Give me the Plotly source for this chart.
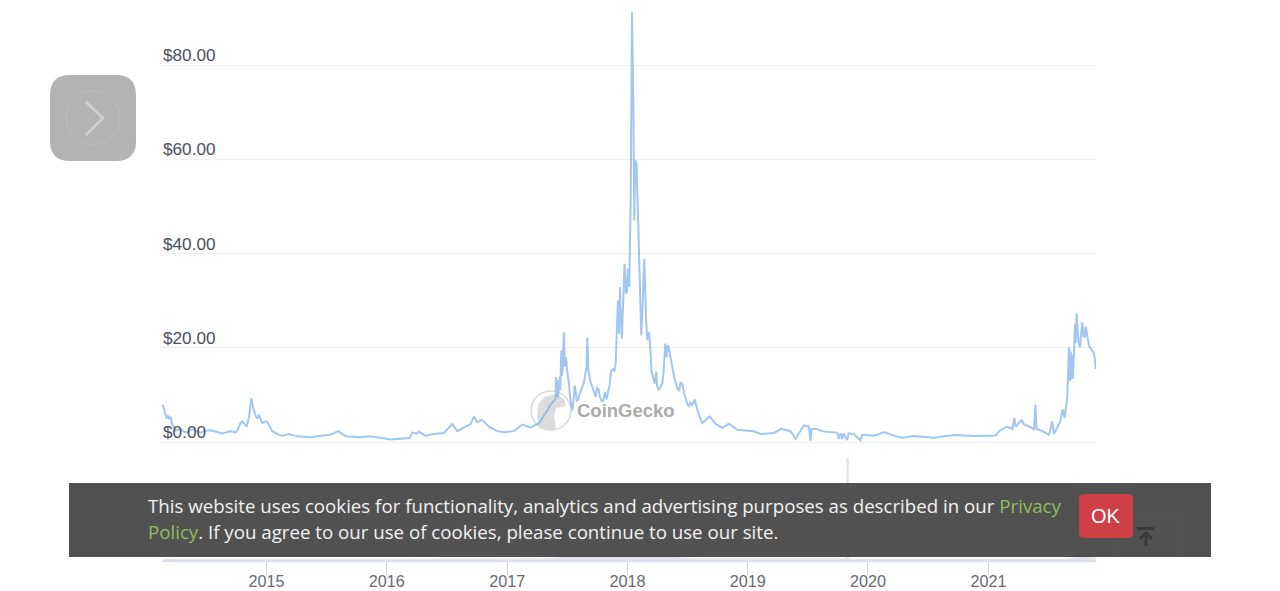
import pandas as pd
import plotly.graph_objects as go

W, H = 1280, 591

price_years = [
 2014.136,2014.147,2014.158,2014.169,2014.18,2014.191,2014.202,2014.216,2014.23,2014.244,2014.285,2014.341,2014.396,2014.452,2014.535,
 2014.632,2014.70,2014.742,2014.778,2014.798,2014.834,2014.853,2014.873,2014.886,2014.909,2014.936,2014.964,2015.006,2015.047,2015.102,
 2015.13,2015.186,2015.255,2015.366,2015.449,2015.532,2015.596,2015.656,2015.781,2015.85,2015.947,2016.03,2016.19,2016.21,2016.25,
 2016.266,2016.32,2016.39,2016.474,2016.543,2016.584,2016.654,2016.695,2016.723,2016.75,2016.79,2016.848,2016.917,2016.972,2017.055,
 2017.125,2017.194,2017.263,2017.333,2017.355,2017.402,2017.405,2017.422,2017.438,2017.449,2017.46,2017.471,2017.488,2017.513,2017.541,
 2017.56,2017.577,2017.624,2017.66,2017.665,2017.674,2017.707,2017.735,2017.757,2017.79,2017.812,2017.837,2017.865,2017.901,2017.92,
 2017.931,2017.937,2017.953,2017.975,2017.987,2018.003,2018.014,2018.026,2018.037,2018.048,2018.056,2018.064,2018.075,2018.084,2018.095,
 2018.103,2018.114,2018.128,2018.139,2018.153,2018.164,2018.18,2018.197,2018.225,2018.239,2018.258,2018.289,2018.314,2018.325,2018.339,
 2018.372,2018.414,2018.455,2018.497,2018.538,2018.558,2018.621,2018.682,2018.732,2018.788,2018.843,2018.912,2018.995,2019.05,2019.106,
 2019.217,2019.278,2019.356,2019.397,2019.425,2019.466,2019.508,2019.522,2019.53,2019.572,2019.633,2019.744,2019.757,2019.771,2019.785,
 2019.798,2019.826,2019.84,2019.88,2019.937,2019.951,2020.05,2020.137,2020.215,2020.285,2020.38,2020.547,2020.713,2020.88,2021.06,
 2021.087,2021.151,2021.198,2021.215,2021.226,2021.276,2021.295,2021.323,2021.378,2021.389,2021.4,2021.448,2021.503,2021.53,2021.544,
 2021.572,2021.594,2021.617,2021.633,2021.655,2021.669,2021.677,2021.688,2021.702,2021.716,2021.733,2021.744,2021.76,2021.78,2021.8,
 2021.816,2021.836,2021.872,2021.892,
]
price_values = [
 7.9,7.0,5.8,5.0,5.6,4.9,5.3,3.6,3.2,2.4,2.8,2.05,2.7,2.0,2.5,
 1.8,2.3,2.0,3.8,4.4,3.25,5.2,9.3,7.4,5.6,5.8,4.0,4.2,2.3,1.5,
 1.35,1.7,1.2,1.0,1.35,1.55,2.3,1.2,1.0,1.2,0.9,0.55,0.85,2.0,1.8,
 2.2,1.35,1.7,1.9,3.8,2.3,3.25,3.8,5.4,4.2,4.7,3.25,2.3,2.05,2.3,
 3.7,3.1,4.0,6.7,7.8,9.2,13.8,9.5,13.8,19.4,15.2,23.3,18.0,12.4,6.7,
 12.0,8.8,11.7,15.9,22.1,15.2,11.7,9.5,11.3,8.5,10.6,10.3,15.2,16.6,30.0,
 23.0,32.9,21.9,37.8,31.5,36.8,32.9,51.3,91.2,72.5,47.0,59.8,59.0,49.9,44.2,
 32.9,22.6,30.8,38.9,26.5,21.6,23.3,15.9,12.4,14.9,11.0,12.4,20.9,18.0,20.5,
 16.3,11.3,12.4,8.1,7.8,9.0,4.0,5.4,3.9,3.0,3.9,2.6,2.3,2.26,1.7,
 1.9,2.8,2.3,0.65,1.7,3.5,3.25,0.3,2.75,2.75,2.2,2.0,0.65,1.85,0.65,
 1.85,0.4,1.85,1.7,0.4,1.55,1.35,2.1,1.35,0.9,1.25,0.9,1.5,1.25,1.4,
 2.3,3.25,2.75,5.1,3.25,4.65,3.7,3.5,2.75,7.9,2.75,2.3,1.55,4.4,1.7,
 3.1,4.2,6.9,5.1,9.5,20.1,13.4,18.3,13.4,21.9,27.3,22.9,20.1,25.4,22.2,
 23.6,20.4,19.0,15.5,
]

# finer readings from the busy stretches of the line
detail_years = [
 2014.31,2014.37,2014.42,2014.49,2014.58,2014.67,2014.76,2014.92,2014.99,2015.02,2015.07,
 2017.41,2017.414,2017.418,2017.43,2017.44,2017.453,2017.465,2017.478,2017.5,2017.52,2017.53,2017.55,2017.57,2017.59,2017.6,
 2017.64,2017.652,2017.668,2017.69,2017.72,2017.745,2017.77,2017.8,2017.825,2017.85,2017.88,2017.89,2017.925,2017.934,2017.942,
 2017.947,2017.96,2017.968,2017.98,2017.995,
 2018.2,2018.21,2018.23,2018.245,2018.27,2018.3,2018.33,2018.35,2018.36,2018.39,2018.43,2018.44,2018.47,2018.51,2018.525,2018.59,
 2021.672,2021.675,2021.68,2021.684,2021.692,2021.695,2021.698,2021.706,2021.71,2021.72,2021.725,2021.738,2021.75,2021.77,2021.79,
 2021.808,2021.825,2021.85,2021.86,2021.882,
]
detail_values = [
 2.2,2.6,2.3,2.4,2.1,2.1,2.6,5.0,4.4,3.6,2.0,
 10.5,13.2,10.0,12.5,11.0,14.0,20.0,16.0,14.5,10.0,8.0,8.5,10.5,9.0,10.0,
 13.0,15.0,17.0,13.0,10.5,11.5,9.5,9.0,9.0,12.0,15.5,15.0,25.0,27.0,25.0,
 28.0,30.0,33.0,34.0,32.0,
 15.0,14.0,13.0,12.0,11.5,15.0,20.0,19.0,18.0,13.5,11.0,12.5,10.5,7.6,8.3,6.0,
 14.5,19.5,13.0,19.0,13.5,18.5,14.0,17.0,20.0,25.0,21.0,25.0,21.0,23.0,22.5,
 24.5,22.0,20.0,19.5,18.0,
]

volume_years = [2014.136,2017.3,2017.5,2017.9,2018.0,2018.04,2018.08,2018.3,2018.6,2019.82,2019.825,2019.835,2019.84,2019.9,2021.65,2021.75,2021.892]
volume_values = [0.5,1.0,3.0,3.0,6.0,18.0,5.0,3.0,1.0,1.0,100.0,100.0,1.0,0.5,0.5,3.0,2.0]

y_ticks = [0, 20, 40, 60, 80]
y_tick_labels = ["$0.00", "$20.00", "$40.00", "$60.00", "$80.00"]
x_tick_years = [2015, 2016, 2017, 2018, 2019, 2020, 2021]
x_tick_labels = ["2015", "2016", "2017", "2018", "2019", "2020", "2021"]
x_span = [2014.130, 2021.894]

banner_line_1 = "This website uses cookies for functionality, analytics and advertising purposes as described in our <span style='color:#93bd5e'>Privacy</span>"
banner_line_2 = "<span style='color:#93bd5e'>Policy</span>. If you agree to our use of cookies, please continue to use our site."


def to_date(y):
    year = int(y)
    start = pd.Timestamp(year=year, month=1, day=1)
    days = (pd.Timestamp(year=year + 1, month=1, day=1) - start).days
    return (start + pd.Timedelta(days=(y - year) * days)).strftime("%Y-%m-%d %H:%M")


px = lambda x: x / W
py = lambda y: 1 - y / H


def rrect(x0, y0, x1, y1, r):
    return (f"M {px(x0+r)} {py(y0)} L {px(x1-r)} {py(y0)} Q {px(x1)} {py(y0)} {px(x1)} {py(y0+r)} "
            f"L {px(x1)} {py(y1-r)} Q {px(x1)} {py(y1)} {px(x1-r)} {py(y1)} L {px(x0+r)} {py(y1)} "
            f"Q {px(x0)} {py(y1)} {px(x0)} {py(y1-r)} L {px(x0)} {py(y0+r)} Q {px(x0)} {py(y0)} {px(x0+r)} {py(y0)} Z")


def poly(points, close=False):
    s = "M " + " L ".join(f"{px(a)} {py(b)}" for a, b in points)
    return s + (" Z" if close else "")


def paper_shape(**k):
    return dict(xref="paper", yref="paper", **k)


shapes = [
    # watermark
    paper_shape(type="circle", x0=px(531), x1=px(571), y0=py(430), y1=py(391), line=dict(color="#d9d9d9", width=1.5), fillcolor="rgba(255,255,255,0)", layer="below"),
    paper_shape(type="path", path=poly([(538, 405), (544, 397), (556, 394), (564, 399), (566, 406), (556, 408), (554, 416), (556, 429), (540, 429), (537, 418)], True), fillcolor="#dcdcdc", line=dict(width=0), layer="below"),
    # chevron button
    paper_shape(type="path", path=rrect(50, 75, 136, 161, 20), fillcolor="#b3b3b3", line=dict(width=0)),
    paper_shape(type="circle", x0=px(66), x1=px(120), y0=py(145), y1=py(91), line=dict(color="#bdbdbd", width=1), fillcolor="rgba(0,0,0,0)"),
    paper_shape(type="path", path=poly([(86, 102), (103, 118), (86, 135)]), line=dict(color="#cfcfcf", width=3)),
    # cookie banner
    paper_shape(type="rect", x0=px(69), x1=px(1211), y0=py(557), y1=py(483), fillcolor="rgba(72,72,72,0.95)", line=dict(width=0)),
    # back-to-top icon seen through the banner
    paper_shape(type="path", path=poly([(1115, 555), (1115, 513), (1177, 513), (1177, 555)]), line=dict(color="#575757", width=1)),
    paper_shape(type="rect", x0=px(1137), x1=px(1154), y0=py(530), y1=py(527), fillcolor="#3a3a3a", line=dict(width=0)),
    paper_shape(type="path", path=poly([(1146, 533), (1146, 546)]), line=dict(color="#3a3a3a", width=3)),
    paper_shape(type="path", path=poly([(1140, 539), (1146, 533), (1152, 539)]), line=dict(color="#3a3a3a", width=3)),
    paper_shape(type="path", path=rrect(1079, 494, 1133, 538, 5), fillcolor="#cf3f48", line=dict(width=0)),
]

annotations = [
    dict(text=lbl, x=px(160.5), xref="paper", y=v, yref="y", xanchor="left", yanchor="middle", yshift=10,
         showarrow=False, font=dict(family="Liberation Sans", size=17.2, color="#4a4f5c"))
    for v, lbl in zip(y_ticks, y_tick_labels)
] + [
    dict(text="CoinGecko", x=px(575), y=py(410), xref="paper", yref="paper", xanchor="left", yanchor="middle",
         showarrow=False, font=dict(family="Liberation Sans", size=18.5, color="#ababab", weight="bold")),
    dict(text=banner_line_1, x=px(146), y=py(505), xref="paper", yref="paper", xanchor="left", yanchor="middle",
         showarrow=False, font=dict(family="Open Sans", size=18.7, color="#f2f2f2")),
    dict(text=banner_line_2, x=px(146), y=py(531), xref="paper", yref="paper", xanchor="left", yanchor="middle",
         showarrow=False, font=dict(family="Open Sans", size=18.7, color="#f2f2f2")),
    dict(text="OK", x=px(1106), y=py(516), xref="paper", yref="paper", xanchor="center", yanchor="middle",
         showarrow=False, font=dict(family="Liberation Sans", size=20, color="#ffffff")),
]

line = sorted(zip(price_years + detail_years, price_values + detail_values))

fig = go.Figure()
fig.add_trace(go.Scatter(
    x=[to_date(p[0]) for p in line], y=[p[1] for p in line], mode="lines",
    line=dict(color="rgba(124,176,235,0.72)", width=2), xaxis="x", yaxis="y", hoverinfo="skip"))
fig.add_trace(go.Scatter(
    x=[to_date(v) for v in volume_years], y=volume_values, mode="lines", fill="tozeroy",
    line=dict(color="#e2e4ea", width=1), fillcolor="#e2e4ea", xaxis="x2", yaxis="y2", hoverinfo="skip"))

x_range = [to_date(v) for v in x_span]
x_domain = [162 / W, 1096 / W]
fig.update_layout(
    width=W, height=H, margin=dict(l=0, r=0, t=0, b=0), autosize=False,
    paper_bgcolor="#ffffff", plot_bgcolor="#ffffff", showlegend=False,
    xaxis=dict(domain=x_domain, range=x_range, type="date", visible=False, anchor="y", automargin=False),
    yaxis=dict(domain=[py(442), 1], range=[0, 442 / 4.7125], tickvals=y_ticks, showticklabels=False,
               showgrid=True, gridcolor="#eef0f3", gridwidth=1, zeroline=True, zerolinecolor="#eef0f3",
               zerolinewidth=1, showline=False, ticks="", anchor="x", automargin=False),
    xaxis2=dict(domain=x_domain, range=x_range, type="date", anchor="y2", showgrid=False, automargin=False,
                tickvals=[to_date(v) for v in x_tick_years], ticktext=x_tick_labels,
                ticks="outside", ticklen=13, tickcolor="#ccd6eb", tickwidth=1, ticklabelstandoff=-7,
                showline=True, linecolor="#d8dff0", linewidth=2, zeroline=False,
                tickfont=dict(family="Liberation Sans", size=16.2, color="#666b72")),
    yaxis2=dict(domain=[py(560), py(458)], range=[0, 100], visible=False, anchor="x2", automargin=False),
    shapes=shapes, annotations=annotations,
)

fig.write_html("out.html", config=dict(displayModeBar=False, staticPlot=True),
               post_script="document.body.style.margin='0';document.body.style.overflow='hidden';")
